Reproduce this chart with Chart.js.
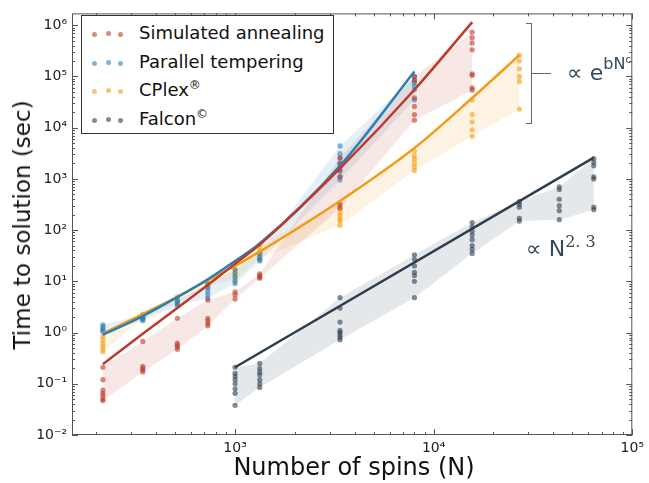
<!DOCTYPE html>
<html lang="en">
<head>
<meta charset="UTF-8">
<title>Time to solution vs number of spins</title>
<script src="https://cdn.jsdelivr.net/npm/chart.js"></script>
<style>
    body { margin: 0; background: #fff; font-family: 'DejaVu Sans', sans-serif; }
    #wrap { position: relative; width: 649px; height: 483px; }
    #legend {
        position: absolute; left: 81px; top: 15px; width: 253px; height: 119px;
        border: 1px solid #333; background: #fff; box-sizing: border-box;
    }
    .row { position: absolute; left: 0; width: 100%; height: 28px; }
    .row span.lbl { position: absolute; left: 57px; top: 2px; font-size: 18px; color: #111; line-height: 21px; }
    .row sup { font-size: 12px; vertical-align: 7px; line-height: 0; }
    .dot { position: absolute; width: 5px; height: 5px; border-radius: 50%; opacity: 0.6; }
    .ytitle {
        position: absolute; left: 22px; top: 225px; font-size: 23px; color: #111;
        transform: translate(-50%, -50%) rotate(-90deg); white-space: nowrap;
    }
    .xtitle {
        position: absolute; left: 354px; top: 467px; font-size: 24px; color: #111;
        transform: translate(-50%, -50%); white-space: nowrap;
    }
    .note { position: absolute; color: #34495e; white-space: nowrap; font-size: 22px; }
    .note sup { line-height: 0; }
    #bracket {
        position: absolute; left: 526px; top: 23px; width: 6px; height: 101px;
        border: 1.5px solid #666; border-left: none; box-sizing: border-box;
    }
    #bracketArm { position: absolute; left: 532px; top: 73px; width: 19px; border-top: 1.5px solid #666; }
</style>
</head>
<body>
<div id="wrap">
    <canvas id="chart" width="649" height="483"></canvas>
    <div id="legend"></div>
    <div class="ytitle">Time to solution (sec)</div>
    <div class="xtitle">Number of spins (N)</div>
    <div id="bracket"></div>
    <div id="bracketArm"></div>
    <div class="note" style="left:567px; top:60px;">&#8733; e<sup style="font-size:16px; vertical-align:11px;">bN<sup style="font-size:10px; vertical-align:6px;">c</sup></sup></div>
    <div class="note" style="left:526px; top:236px;">&#8733; N<sup style="font-family:'DejaVu Serif', serif; font-size:16px; vertical-align:9px;">2. 3</sup></div>
</div>

<script>
    // axis ticks
    const xTicks = [1e3, 1e4, 1e5];
    const xTickLabels = ['10\u00b3', '10\u2074', '10\u2075'];
    const yTicks = [1e-2, 1e-1, 1e0, 1e1, 1e2, 1e3, 1e4, 1e5, 1e6];
    const yTickLabels = ['10\u207b\u00b2', '10\u207b\u00b9', '10\u2070', '10\u00b9', '10\u00b2', '10\u00b3', '10\u2074', '10\u2075', '10\u2076'];

    // Simulated annealing
    const saN = [216, 343, 512, 729, 1000, 1331, 3375, 8000, 15625];
    const saRuns = [
        [0.21, 0.12, 0.075, 0.065, 0.058, 0.05, 0.047],
        [0.67, 0.22, 0.2, 0.185, 0.17],
        [1.9, 0.62, 0.57, 0.52, 0.47],
        [4.3, 1.9, 1.7, 1.5, 1.35],
        [6.2, 5.5, 4.5],
        [14, 13, 12, 11.5],
        [2600, 2000, 1500, 1100, 310, 270],
        [100000, 83000, 38000, 26000, 18000, 14000],
        [730000, 570000, 450000, 330000, 112000, 105000, 60000, 54000]
    ];
    const saFit = [0.24, 0.95, 3.0, 8.5, 22, 52, 1600, 55000, 1150000];

    // Parallel tempering
    const ptN = [216, 343, 512, 729, 1000, 1331, 3375, 8000];
    const ptRuns = [
        [1.42, 1.3, 1.2, 1.1, 1.05],
        [2.2, 2.0, 1.9, 1.8, 1.7],
        [4.3, 4.0, 3.6, 3.3],
        [8.8, 7.5, 6.5, 5.5, 4.7],
        [17, 14, 12, 10, 9],
        [35, 30, 27, 25],
        [4400, 3100, 2500, 2000, 1700, 1400, 1100, 950],
        [100000, 85000, 75000, 65000, 55000, 35000]
    ];
    const ptFit = [0.9, 2.1, 4.9, 11, 25, 55, 1800, 125000];

    // CPLEX
    const cpN = [216, 343, 512, 729, 1000, 1331, 3375, 8000, 15625, 27000];
    const cpRuns = [
        [0.84, 0.72, 0.62, 0.55, 0.48, 0.42],
        [2.3, 2.1, 2.0, 1.9],
        [5.0, 4.5, 4.0, 3.7],
        [10, 9, 8],
        [17, 15, 13, 11],
        [52, 45, 38, 33, 28],
        [330, 260, 220, 190, 165, 150, 125],
        [3500, 2800, 2400, 2000, 1700, 1450],
        [35000, 18000, 13000, 9100, 6800],
        [260000, 200000, 140000, 100000, 80000, 23000]
    ];
    const cpFit = [0.95, 2.3, 5.0, 10.5, 20, 38, 370, 4000, 38000, 260000];

    // Falcon (power-law fit is a straight line on log-log axes)
    const faN = [1000, 1331, 3375, 8000, 15625, 27000, 42875, 64000];
    const faRuns = [
        [0.21, 0.16, 0.14, 0.12, 0.1, 0.08, 0.065, 0.038],
        [0.25, 0.2, 0.17, 0.15, 0.12, 0.1, 0.085],
        [4.8, 3.0, 1.6, 1.1, 1.0, 0.9, 0.8, 0.72],
        [33, 27, 20, 15, 13, 10, 4.8],
        [140, 115, 95, 80, 65, 50, 42, 35],
        [360, 320, 280, 170, 150],
        [700, 620, 400, 300, 240, 160],
        [2500, 2100, 1800, 1100, 1000, 280, 250]
    ];
    const faFitN = [1000, 64000];
    const faFit = [0.21, 2600];

    const series = [
        { name: 'Simulated annealing', sup: '', color: '#c0392b', band: 'rgba(192,57,43,0.12)', n: saN, runs: saRuns, fitN: saN, fit: saFit, smooth: true },
        { name: 'Parallel tempering', sup: '', color: '#2980b9', band: 'rgba(41,128,185,0.12)', n: ptN, runs: ptRuns, fitN: ptN, fit: ptFit, smooth: true },
        { name: 'CPlex', sup: '\u00ae', color: '#f39c12', band: 'rgba(243,156,18,0.12)', n: cpN, runs: cpRuns, fitN: cpN, fit: cpFit, smooth: true },
        { name: 'Falcon', sup: '\u00a9', color: '#2c3e50', band: 'rgba(44,62,80,0.12)', n: faN, runs: faRuns, fitN: faFitN, fit: faFit, smooth: false }
    ];

    function hexA(hex, a) {
        const r = parseInt(hex.slice(1, 3), 16), g = parseInt(hex.slice(3, 5), 16), b = parseInt(hex.slice(5, 7), 16);
        return `rgba(${r},${g},${b},${a})`;
    }

    const datasets = [];
    series.forEach(s => {
        // shaded band between slowest and fastest run
        datasets.push({
            type: 'line', data: s.n.map((n, i) => ({ x: n, y: Math.min(...s.runs[i]) })),
            borderWidth: 0, pointRadius: 0, fill: false, order: 3
        });
        datasets.push({
            type: 'line', data: s.n.map((n, i) => ({ x: n, y: Math.max(...s.runs[i]) })),
            borderWidth: 0, pointRadius: 0, fill: '-1', backgroundColor: s.band, order: 3
        });
    });
    series.forEach(s => {
        const pts = [];
        s.n.forEach((n, i) => s.runs[i].forEach(v => pts.push({ x: n, y: v })));
        datasets.push({
            type: 'scatter', data: pts, pointRadius: 2.6, borderWidth: 0,
            backgroundColor: hexA(s.color, 0.6), order: 2
        });
    });
    series.forEach(s => {
        datasets.push({
            type: 'line', data: s.fitN.map((n, i) => ({ x: n, y: s.fit[i] })),
            borderColor: s.color, borderWidth: 2.5, pointRadius: 0, fill: false,
            cubicInterpolationMode: s.smooth ? 'monotone' : 'default', tension: 0, order: 1
        });
    });

    // legend box
    const legend = document.getElementById('legend');
    series.forEach((s, i) => {
        const row = document.createElement('div');
        row.className = 'row';
        row.style.top = (4 + i * 28.5) + 'px';
        [[10, 12], [24, 11], [36, 12]].forEach(([dx, dy]) => {
            const d = document.createElement('div');
            d.className = 'dot';
            d.style.left = dx + 'px';
            d.style.top = dy + 'px';
            d.style.background = s.color;
            row.appendChild(d);
        });
        const lbl = document.createElement('span');
        lbl.className = 'lbl';
        lbl.innerHTML = s.name + (s.sup ? '<sup>' + s.sup + '</sup>' : '');
        row.appendChild(lbl);
        legend.appendChild(row);
    });

    // frame + inward major/minor ticks on all four sides
    const frameTicks = {
        id: 'frameTicks',
        afterDatasetsDraw(chart) {
            const { ctx, chartArea: a, scales: { x, y } } = chart;
            ctx.save();
            ctx.strokeStyle = '#555';
            ctx.lineWidth = 1;
            ctx.strokeRect(a.left + 0.5, a.top + 0.5, a.right - a.left - 1, a.bottom - a.top - 1);
            ctx.beginPath();
            for (let d = -3; d <= 6; d++) {
                for (let k = 1; k <= 9; k++) {
                    const v = k * Math.pow(10, d);
                    const len = k === 1 ? 6 : 3;
                    if (v >= x.min && v <= x.max) {
                        const px = Math.round(x.getPixelForValue(v)) + 0.5;
                        ctx.moveTo(px, a.bottom); ctx.lineTo(px, a.bottom - len);
                        ctx.moveTo(px, a.top); ctx.lineTo(px, a.top + len);
                    }
                    if (v >= y.min && v <= y.max) {
                        const py = Math.round(y.getPixelForValue(v)) + 0.5;
                        ctx.moveTo(a.left, py); ctx.lineTo(a.left + len, py);
                        ctx.moveTo(a.right, py); ctx.lineTo(a.right - len, py);
                    }
                }
            }
            ctx.stroke();
            ctx.restore();
        }
    };

    new Chart(document.getElementById('chart'), {
        data: { datasets },
        options: {
            responsive: false,
            animation: false,
            layout: { padding: { top: 7, right: 12, left: 0, bottom: 0 } },
            plugins: { legend: { display: false }, tooltip: { enabled: false } },
            scales: {
                x: {
                    type: 'logarithmic', min: 151, max: 1e5,
                    afterBuildTicks: s => { s.ticks = xTicks.map(v => ({ value: v })); },
                    afterFit: s => { s.height = 48; },
                    ticks: {
                        callback: (v, i) => xTickLabels[i], autoSkip: false, maxRotation: 0,
                        padding: 5, color: '#222', font: { family: 'DejaVu Sans', size: 14 }
                    },
                    grid: { display: false, drawTicks: false },
                    border: { display: false }
                },
                y: {
                    type: 'logarithmic', min: 1e-2, max: 1.7e6,
                    afterBuildTicks: s => { s.ticks = yTicks.map(v => ({ value: v })); },
                    afterFit: s => { s.width = 72; },
                    ticks: {
                        callback: (v, i) => yTickLabels[i], autoSkip: false,
                        padding: 5, color: '#222', font: { family: 'DejaVu Sans', size: 14 }
                    },
                    grid: { display: false, drawTicks: false },
                    border: { display: false }
                }
            }
        },
        plugins: [frameTicks]
    });
</script>
</body>
</html>
